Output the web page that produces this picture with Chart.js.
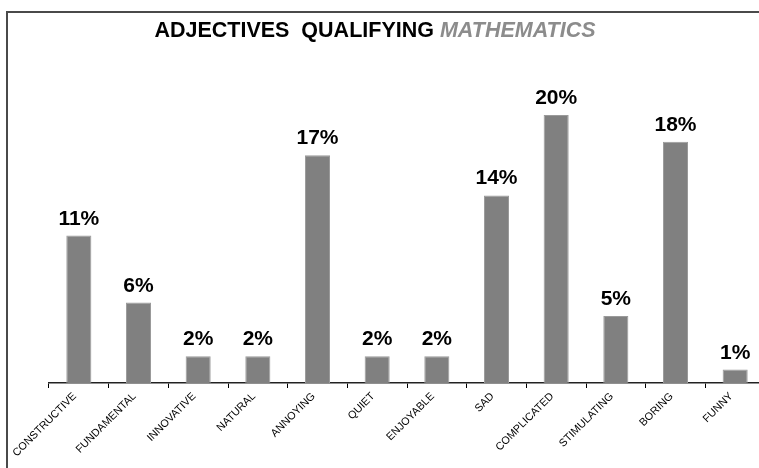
<!DOCTYPE html>
<html>
<head>
<meta charset="utf-8">
<script src="https://cdn.jsdelivr.net/npm/chart.js@4"></script>
<style>
  html, body { margin: 0; padding: 0; background: #fff; overflow: hidden; }
  body { width: 759px; height: 468px; position: relative; }
  #wrap { position: absolute; left: 0; top: 0; width: 790px; height: 468px; }
  #frame { position: absolute; left: 6px; top: 11px; width: 800px; height: 500px;
           border-left: 2px solid #4a4a4a; border-top: 2px solid #4a4a4a; pointer-events: none; }
</style>
</head>
<body>
<div id="wrap"><canvas id="chart"></canvas></div>
<div id="frame"></div>
<script>
const categories = ['CONSTRUCTIVE', 'FUNDAMENTAL', 'INNOVATIVE', 'NATURAL', 'ANNOYING', 'QUIET',
                    'ENJOYABLE', 'SAD', 'COMPLICATED', 'STIMULATING', 'BORING', 'FUNNY'];
const percents = [11, 6, 2, 2, 17, 2, 2, 14, 20, 5, 18, 1];
const titleMain = 'ADJECTIVES  QUALIFYING ';
const titleSubject = 'MATHEMATICS';

const FONT = "'Liberation Sans', Arial, sans-serif";

// two-tone heading: black words, grey italic subject
const titlePlugin = {
  id: 'twoToneTitle',
  afterDraw(chart) {
    const ctx = chart.ctx;
    ctx.save();
    ctx.textBaseline = 'alphabetic';
    ctx.font = `bold 21.5px ${FONT}`;
    const w1 = ctx.measureText(titleMain).width;
    ctx.font = `italic bold 21.5px ${FONT}`;
    const w2 = ctx.measureText(titleSubject).width;
    const x0 = 375 - (w1 + w2) / 2;
    ctx.font = `bold 21.5px ${FONT}`;
    ctx.fillStyle = '#000';
    ctx.fillText(titleMain, x0, 37);
    ctx.font = `italic bold 21.5px ${FONT}`;
    ctx.fillStyle = '#8c8c8c';
    ctx.fillText(titleSubject, x0 + w1, 37);
    ctx.restore();
  }
};

// percentage over each bar
const valueLabels = {
  id: 'valueLabels',
  afterDatasetsDraw(chart) {
    const ctx = chart.ctx;
    const meta = chart.getDatasetMeta(0);
    ctx.save();
    ctx.font = `bold 21px ${FONT}`;
    ctx.fillStyle = '#000';
    ctx.textAlign = 'center';
    ctx.textBaseline = 'alphabetic';
    meta.data.forEach((bar, i) => {
      ctx.fillText(percents[i] + '%', bar.x, bar.y - 11);
    });
    ctx.restore();
  }
};

new Chart(document.getElementById('chart'), {
  type: 'bar',
  data: {
    labels: categories,
    datasets: [{
      data: percents,
      backgroundColor: '#808080',
      borderColor: '#9a9a9a',
      borderWidth: 1,
      categoryPercentage: 1,
      barPercentage: 0.42
    }]
  },
  options: {
    responsive: true,
    maintainAspectRatio: false,
    animation: false,
    layout: { padding: { left: 49, right: 25, top: 115, bottom: 0 } },
    plugins: { legend: { display: false }, tooltip: { enabled: false } },
    scales: {
      x: {
        afterFit: s => { s.height = 85; },
        grid: {
          display: true,
          offset: true,
          drawOnChartArea: false,
          drawTicks: true,
          tickLength: 5,
          color: '#000'
        },
        border: { display: true, color: '#222', width: 1.5 },
        ticks: {
          autoSkip: false,
          minRotation: 45,
          maxRotation: 45,
          color: '#000',
          padding: 2,
          labelOffset: -4,
          font: { family: FONT, size: 10.8 }
        }
      },
      y: {
        display: false,
        min: 0,
        max: 20
      }
    }
  },
  plugins: [titlePlugin, valueLabels]
});
</script>
</body>
</html>
